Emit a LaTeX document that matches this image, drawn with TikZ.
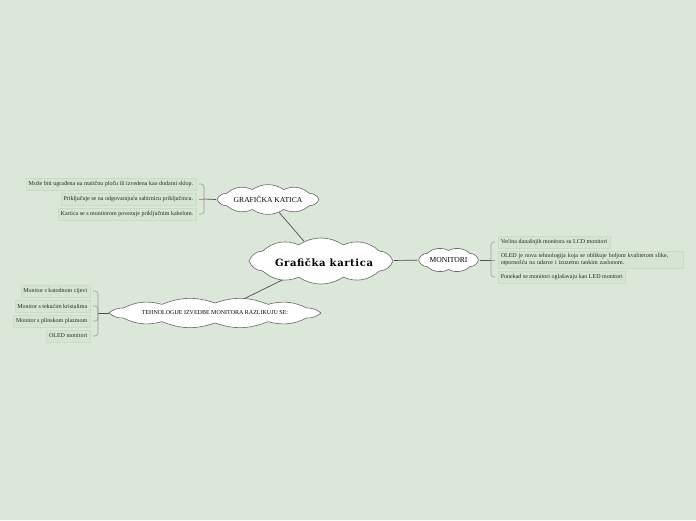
\documentclass[tikz,border=0pt]{standalone}
\usepackage{fontspec}
\setmainfont{Liberation Serif}
\newfontfamily\titlefont[LetterSpace=6]{DejaVu Serif}
\usetikzlibrary{shapes.geometric}
\definecolor{bgc}{HTML}{DBE7D8}
\definecolor{leaffill}{HTML}{D5E5D1}
\definecolor{leafdraw}{HTML}{C9DCC5}
\definecolor{linkc}{HTML}{505050}
\definecolor{brc}{HTML}{9A9A9A}
\tikzset{
  anchorell/.style={ellipse, inner sep=0pt, align=center},
  cloudline/.style={draw=black!60, fill=white, line width=0.6pt},
  leaf/.style={rectangle, fill=leaffill, draw=leafdraw, line width=0.4pt, font=\fontsize{6}{6.9}\selectfont, inner xsep=2.6pt, inner ysep=2.4pt, minimum height=12pt, text=black!85},
  link/.style={draw=linkc, line width=0.7pt},
  brace/.style={draw=brc, line width=0.6pt, rounded corners=3pt},
}
% cx cy a b n bend
\newcommand\mycloud[6]{%
  \path[cloudline] ({#1+#3},#2) \foreach \k in {1,...,#5} { to[bend left=#6] ({#1+#3*cos(360*\k/#5)},{#2+#4*sin(360*\k/#5)}) } -- cycle;
}
\begin{document}
\begin{tikzpicture}[x=1pt,y=-1pt]
\fill[bgc] (0,0) rectangle (696,520);
\useasboundingbox (0,0) rectangle (696,520);

% name-carrying ellipses (invisible) for the clouds
\node[anchorell, minimum width=146pt, minimum height=40pt] (main) at (321,261) {};
\node[anchorell, minimum width=104pt, minimum height=26pt] (gk) at (268,199.5) {};
\node[anchorell, minimum width=62pt, minimum height=24pt] (mon) at (448.5,260) {};
\node[anchorell, minimum width=211pt, minimum height=22pt] (teh) at (215,313) {};

% main connectors
\draw[link] (main) -- (gk);
\draw[link] (main) -- (mon);
\draw[link] (main) -- (teh);

% cloud outlines
\mycloud{321}{261}{72}{17}{10}{32}
\mycloud{268}{199.5}{51}{10.5}{10}{32}
\mycloud{448.5}{260}{30}{9.5}{8}{34}
\mycloud{215}{313}{106}{10}{12}{20}

% cloud texts
\node at ([xshift=3pt,yshift=-2pt]main.center) {\titlefont\bfseries\fontsize{10}{12}\selectfont Grafička kartica};
\node[font=\fontsize{7.6}{8}\selectfont] at (gk.center) {GRAFIČKA KATICA};
\node[font=\fontsize{7.6}{8}\selectfont] at (mon.center) {MONITORI};
\node[font=\fontsize{6}{7}\selectfont] at (teh.center) {TEHNOLOGIJE IZVEDBE MONITORA RAZLIKUJU SE:};

% GRAFICKA KATICA leaves
\node[leaf, anchor=east] (gk1) at (196,184) {Može biti ugrađena na matičnu ploču ili izvedena kao dodatni sklop.};
\node[leaf, anchor=east] (gk2) at (196,199) {Priključuje se na odgovarajuću sabirnicu priključnicu.};
\node[leaf, anchor=east] (gk3) at (196,214) {Kartica se s monitorom povezuje priključnim kabelom.};
\coordinate (gkb) at (204,199);
\draw[link] (gk.west) -- (gkb);
\draw[brace] (gkb) |- ([xshift=3pt]gk1.east);
\draw[brace] (gkb) -- ([xshift=3pt]gk2.east);
\draw[brace] (gkb) |- ([xshift=3pt]gk3.east);

% MONITORI leaves
\node[leaf, anchor=west] (m1) at (498,242) {Većina današnjih monitora su LCD monitori};
\node[leaf, anchor=west, align=left, text width=180pt] (m2) at (498,260) {OLED je nova tehnologija koja se oblikuje boljom kvalitetom slike,\\otpornošću na udarce i izuzetno tankim zaslonom.};
\node[leaf, anchor=west] (m3) at (498,277) {Ponekad se monitori oglašavaju kao LED monitori};
\coordinate (mb) at (491,260);
\draw[link] (mon.east) -- (mb);
\draw[brace] (mb) |- ([xshift=-3pt]m1.west);
\draw[brace] (mb) -- ([xshift=-3pt]m2.west);
\draw[brace] (mb) |- ([xshift=-3pt]m3.west);

% TEHNOLOGIJE leaves
\node[leaf, anchor=east] (t1) at (90,291) {Monitor s katodnom cijevi};
\node[leaf, anchor=east] (t2) at (90,306) {Monitor s tekućim kristalima};
\node[leaf, anchor=east] (t3) at (90,321) {Monitor s plinskom plazmom};
\node[leaf, anchor=east] (t4) at (90,336) {OLED monitori};
\coordinate (tb) at (98,313);
\draw[link] (teh.west) -- (tb);
\draw[brace] (tb) |- ([xshift=3pt]t1.east);
\draw[brace] (tb) |- ([xshift=3pt]t2.east);
\draw[brace] (tb) |- ([xshift=3pt]t3.east);
\draw[brace] (tb) |- ([xshift=3pt]t4.east);
\end{tikzpicture}
\end{document}
